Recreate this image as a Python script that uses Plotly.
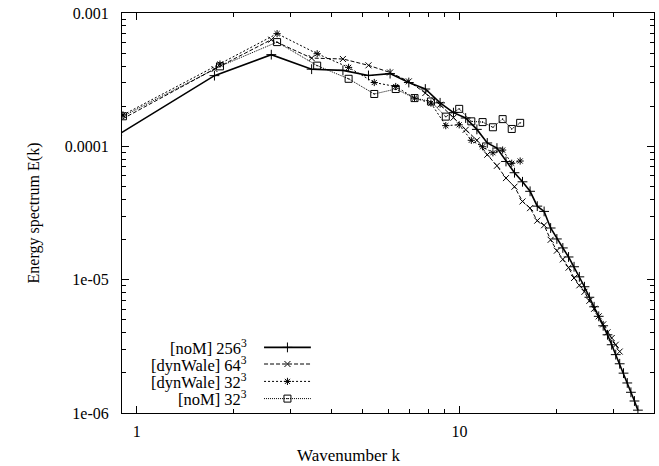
import plotly.graph_objects as go

# ---------------- data ----------------
k_fine = [0.87, 1.74, 2.61, 3.48, 4.35, 5.22, 6.09, 6.96, 7.83, 8.70,
          9.57, 10.44, 11.31, 12.18, 13.05, 13.92, 14.79, 15.66, 16.53, 17.40,
          18.27, 19.14, 20.01, 20.88, 21.75, 22.62, 23.49, 24.36, 25.23, 26.10,
          26.97, 27.84, 28.71, 29.58, 30.45, 31.32, 32.19, 33.06, 33.93, 34.80,
          35.67]
k_coarse = [0.906, 1.81, 2.72, 3.62, 4.53, 5.44, 6.34, 7.25, 8.15, 9.06,
            9.97, 10.87, 11.78, 12.68, 13.59, 14.50, 15.40]

E_noM_256 = [1.21e-4, 3.39e-4, 4.87e-4, 3.79e-4, 3.71e-4, 3.40e-4, 3.51e-4, 3.01e-4, 2.69e-4, 2.12e-4,
             1.79e-4, 1.63e-4, 1.34e-4, 1.06e-4, 9.7e-5, 7.7e-5, 6.34e-5, 5.42e-5, 4.60e-5, 3.56e-5,
             3.25e-5, 2.44e-5, 2.02e-5, 1.73e-5, 1.48e-5, 1.25e-5, 1.05e-5, 8.85e-6, 7.38e-6, 6.26e-6,
             5.31e-6, 4.51e-6, 3.86e-6, 3.25e-6, 2.74e-6, 2.34e-6, 1.99e-6, 1.68e-6, 1.43e-6, 1.23e-6,
             1.05e-6]
E_dynWale_64 = [1.53e-4, 3.80e-4, 6.31e-4, 4.59e-4, 4.52e-4, 4.05e-4, 3.58e-4, 3.07e-4, 2.51e-4, 2.05e-4,
                1.64e-4, 1.33e-4, 1.11e-4, 8.65e-5, 7.15e-5, 5.78e-5, 4.98e-5, 3.86e-5, 3.44e-5, 2.77e-5,
                2.56e-5, 1.99e-5, 1.65e-5, 1.42e-5, 1.23e-5, 1.03e-5, 9.07e-6, 8.11e-6, 6.94e-6, 6.05e-6,
                5.31e-6, 4.62e-6, 4.03e-6, 3.65e-6, 3.25e-6, 2.89e-6]
E_dynWale_32 = [1.72e-4, 4.14e-4, 7.0e-4, 4.95e-4, 3.91e-4, 3.01e-4, 2.81e-4, 2.30e-4, 2.11e-4, 1.43e-4,
                1.45e-4, 1.11e-4, 9.93e-5, 8.95e-5, 9.38e-5, 7.46e-5, 7.76e-5]
E_noM_32 = [1.68e-4, 3.98e-4, 6.05e-4, 4.03e-4, 3.21e-4, 2.47e-4, 2.69e-4, 2.30e-4, 2.17e-4, 1.67e-4,
            1.91e-4, 1.54e-4, 1.52e-4, 1.39e-4, 1.60e-4, 1.35e-4, 1.50e-4]

series_names = ["[noM] 256<sup>3</sup>", "[dynWale] 64<sup>3</sup>",
                "[dynWale] 32<sup>3</sup>", "[noM] 32<sup>3</sup>"]

x_tickvals = [1, 10]
x_ticktext = ["1", "10"]
x_minor = [2, 3, 4, 5, 6, 7, 8, 9, 20, 30, 40]
y_tickvals = [1e-6, 1e-5, 1e-4, 1e-3]
y_ticktext = ["1e-06", "1e-05", "0.0001", "0.001"]
y_minor = [m * 10.0 ** e for e in (-6, -5, -4) for m in range(2, 10)]

x_title = "Wavenumber k"
y_title = "Energy spectrum E(k)"

# ---------------- styling ----------------
FONT = "Liberation Serif, Times New Roman, DejaVu Serif, serif"
FS = 16
FS_KEY = 16.5
styles = [
    dict(dash="solid", width=1.6, symbol="cross-thin-open", size=7),
    dict(dash="4px,2px", width=1, symbol="x-thin-open", size=6),
    dict(dash="2px,2px", width=1, symbol="asterisk-open", size=6),
    dict(dash="1px,1px", width=1, symbol="square-open-dot", size=7),
]
xs = [k_fine, k_fine, k_coarse, k_coarse]
ys = [E_noM_256, E_dynWale_64, E_dynWale_32, E_noM_32]

fig = go.Figure()
for x, y, st, nm in zip(xs, ys, styles, series_names):
    fig.add_trace(go.Scatter(
        x=x, y=y, mode="lines+markers", name=nm, showlegend=False,
        line=dict(color="black", width=st["width"], dash=st["dash"]),
        marker=dict(symbol=st["symbol"], size=st["size"], color="black",
                    line=dict(color="black", width=1)),
    ))

# gnuplot-style key: right-aligned text, sample to the right
rows = [0.164, 0.1225, 0.079, 0.036]
for st, nm, r in zip(styles, series_names, rows):
    fig.add_trace(go.Scatter(
        x=[0.267, 0.355], y=[r, r], mode="lines", xaxis="x2", yaxis="y2",
        showlegend=False, hoverinfo="skip",
        line=dict(color="black", width=st["width"], dash=st["dash"])))
    fig.add_trace(go.Scatter(
        x=[0.311], y=[r], mode="markers", xaxis="x2", yaxis="y2",
        showlegend=False, hoverinfo="skip",
        marker=dict(symbol=st["symbol"], size=st["size"], color="black",
                    line=dict(color="black", width=1))))
    fig.add_annotation(x=0.237, y=r, xref="paper", yref="paper", text=nm,
                       showarrow=False, xanchor="right", yanchor="middle",
                       borderpad=0,
                       font=dict(family=FONT, size=FS_KEY, color="black"))

# x-axis label (gnuplot places it left of the plot-area centre here)
fig.add_annotation(x=0.425, y=-0.105, xref="paper", yref="paper", text=x_title,
                   showarrow=False, xanchor="center", yanchor="middle",
                   font=dict(family=FONT, size=17, color="black"))

axis_common = dict(showline=True, linecolor="black", linewidth=1, mirror="ticks",
                   ticks="inside", ticklen=7, tickcolor="black", tickwidth=1,
                   showgrid=False, zeroline=False,
                   tickfont=dict(family=FONT, size=FS, color="black"))

fig.update_layout(
    width=659, height=466,
    margin=dict(l=122, r=5, t=13, b=53),
    paper_bgcolor="white", plot_bgcolor="white",
    font=dict(family=FONT, size=FS, color="black"),
    xaxis=dict(type="log", range=[-0.0458, 1.6021],
               tickmode="array", tickvals=x_tickvals, ticktext=x_ticktext,
               minor=dict(tickmode="array", tickvals=x_minor, ticks="inside",
                          ticklen=4, tickcolor="black"),
               ticklabelstandoff=4,
               **axis_common),
    yaxis=dict(type="log", range=[-6, -3],
               tickmode="array", tickvals=y_tickvals, ticktext=y_ticktext,
               minor=dict(tickmode="array", tickvals=y_minor, ticks="inside",
                          ticklen=4, tickcolor="black"),
               ticklabelstandoff=9,
               title=dict(text=y_title, font=dict(family=FONT, size=FS), standoff=21),
               **axis_common),
    xaxis2=dict(overlaying="x", anchor="y2", range=[0, 1], visible=False),
    yaxis2=dict(overlaying="y", anchor="x2", range=[0, 1], visible=False),
)

fig.write_html("out.html")
